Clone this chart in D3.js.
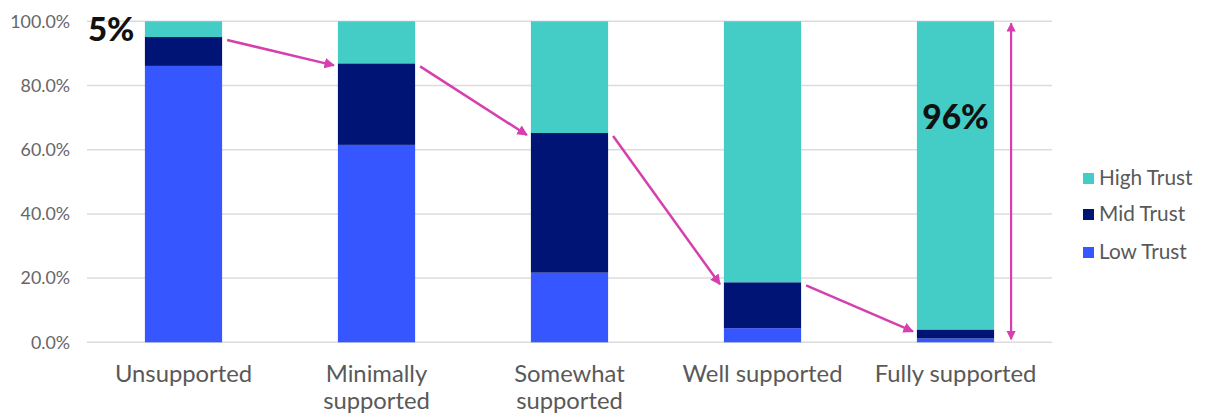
<!DOCTYPE html>
<html><head><meta charset="utf-8">
<script src="https://cdn.jsdelivr.net/npm/d3@7"></script>
<style>body{margin:0;background:#fff;}svg{display:block;font-family:Lato,"Open Sans",sans-serif;}</style>
</head><body>
<svg id="c" width="1206" height="414"></svg>
<script>
const categories = ["Unsupported", "Minimally supported", "Somewhat supported", "Well supported", "Fully supported"];
const lowTrust  = [86.1, 61.5, 21.7, 4.4, 1.2];
const midTrust  = [9.0, 25.4, 43.5, 14.3, 2.8];
const highTrust = [4.9, 13.1, 34.8, 81.3, 96.0];
const seriesNames = ["Low Trust", "Mid Trust", "High Trust"];
const yTicks = [0, 20, 40, 60, 80, 100];
const callouts = [{cat: 0, text: "5%"}, {cat: 4, text: "96%"}];

const colors = {"Low Trust": "#3656FF", "Mid Trust": "#001476", "High Trust": "#43CDC6"};
const accent = "#D63FAE";

const svg = d3.select("#c");
const m = {left: 87, right: 154, top: 21.3, bottom: 71.7};
const W = 1206, H = 414;
const x = d3.scaleBand().domain(categories).range([m.left, W - m.right]).paddingInner(0.6).paddingOuter(0.3);
const y = d3.scaleLinear().domain([0, 100]).range([H - m.bottom, m.top]);

const rows = categories.map((c, i) => ({cat: c, "Low Trust": lowTrust[i], "Mid Trust": midTrust[i], "High Trust": highTrust[i]}));
const stacked = d3.stack().keys(seriesNames)(rows);

// gridlines
svg.append("g").selectAll("line").data(yTicks).join("line")
  .attr("x1", m.left).attr("x2", W - m.right)
  .attr("y1", d => y(d)).attr("y2", d => y(d))
  .attr("stroke", "#dcdcdc").attr("stroke-width", 1.5);

// y axis labels
const yAxis = d3.axisLeft(y).tickValues(yTicks).tickSize(0).tickPadding(17).tickFormat(d => d.toFixed(1) + "%");
const ya = svg.append("g").attr("transform", `translate(${m.left},0)`).call(yAxis);
ya.select(".domain").remove();
ya.selectAll("text").attr("font-size", 17.8).attr("fill", "#666").attr("font-family", "Lato");

// bars
svg.append("g").selectAll("g").data(stacked).join("g")
  .attr("fill", d => colors[d.key])
  .selectAll("rect").data(d => d).join("rect")
  .attr("x", d => x(d.data.cat)).attr("width", x.bandwidth())
  .attr("y", d => y(d[1])).attr("height", d => y(d[0]) - y(d[1]));

// x axis labels
const xa = svg.append("g").attr("transform", `translate(0,${y(0)})`)
  .call(d3.axisBottom(x).tickSize(0).tickFormat(""));
xa.select(".domain").remove();
xa.selectAll(".tick").each(function(d) {
  const words = d.split(" ");
  const lines = (words.length > 1 && d !== "Well supported" && d !== "Fully supported") ? [words[0], words.slice(1).join(" ")] : [d];
  const t = d3.select(this).append("text").attr("fill", "#595959").attr("font-size", 23.8)
    .attr("text-anchor", "middle").attr("font-family", "Lato");
  lines.forEach((l, i) => t.append("tspan").attr("x", 0).attr("y", 39.5 + i * 27).text(l));
});

// markers
const defs = svg.append("defs");
defs.append("marker").attr("id", "ah").attr("viewBox", "0 0 10 10").attr("refX", 9).attr("refY", 5)
  .attr("markerWidth", 4.2).attr("markerHeight", 4.2).attr("orient", "auto-start-reverse").attr("markerUnits", "strokeWidth")
  .append("path").attr("d", "M0,0 L10,5 L0,10 Z").attr("fill", accent);

// connecting arrows between tops of Low+Mid stacks
const midTops = categories.map((c, i) => lowTrust[i] + midTrust[i]);
const arrows = d3.pairs(categories.map((c, i) => i));
svg.append("g").selectAll("line").data(arrows).join("line")
  .attr("x1", d => x(categories[d[0]]) + x.bandwidth() + 5)
  .attr("y1", d => y(midTops[d[0]]) + 3)
  .attr("x2", d => x(categories[d[1]]) - 4)
  .attr("y2", d => y(midTops[d[1]]) + 2)
  .attr("stroke", accent).attr("stroke-width", 2.5).attr("marker-end", "url(#ah)");

// vertical double arrow beside last bar
const last = categories[categories.length - 1];
svg.append("line")
  .attr("x1", x(last) + x.bandwidth() + 17).attr("x2", x(last) + x.bandwidth() + 17)
  .attr("y1", y(0) - 3).attr("y2", y(100) + 2)
  .attr("stroke", accent).attr("stroke-width", 2.2)
  .attr("marker-start", "url(#ah)").attr("marker-end", "url(#ah)");

// callouts
svg.append("text").attr("x", x(categories[0]) - 57).attr("y", y(100) + 20)
  .attr("font-size", 33).attr("font-weight", 900).attr("fill", "#111").attr("font-family", "Lato")
  .text(callouts[0].text);
svg.append("text").attr("x", x(last) + x.bandwidth() / 2).attr("y", y(66.3))
  .attr("text-anchor", "middle")
  .attr("font-size", 33.5).attr("font-weight", 900).attr("fill", "#111").attr("font-family", "Lato")
  .text(callouts[1].text);

// legend
const legOrder = ["High Trust", "Mid Trust", "Low Trust"];
const legY = [178, 214, 252];
const lg = svg.append("g").selectAll("g").data(legOrder).join("g")
  .attr("transform", (d, i) => `translate(1083,${legY[i]})`);
lg.append("rect").attr("x", 0).attr("y", -5).attr("width", 11).attr("height", 11).attr("fill", d => colors[d]);
lg.append("text").attr("x", 16).attr("y", 0).attr("dy", "0.35em").attr("font-size", 20.8)
  .attr("fill", "#595959").attr("font-family", "Lato").text(d => d);
</script>
</body></html>
